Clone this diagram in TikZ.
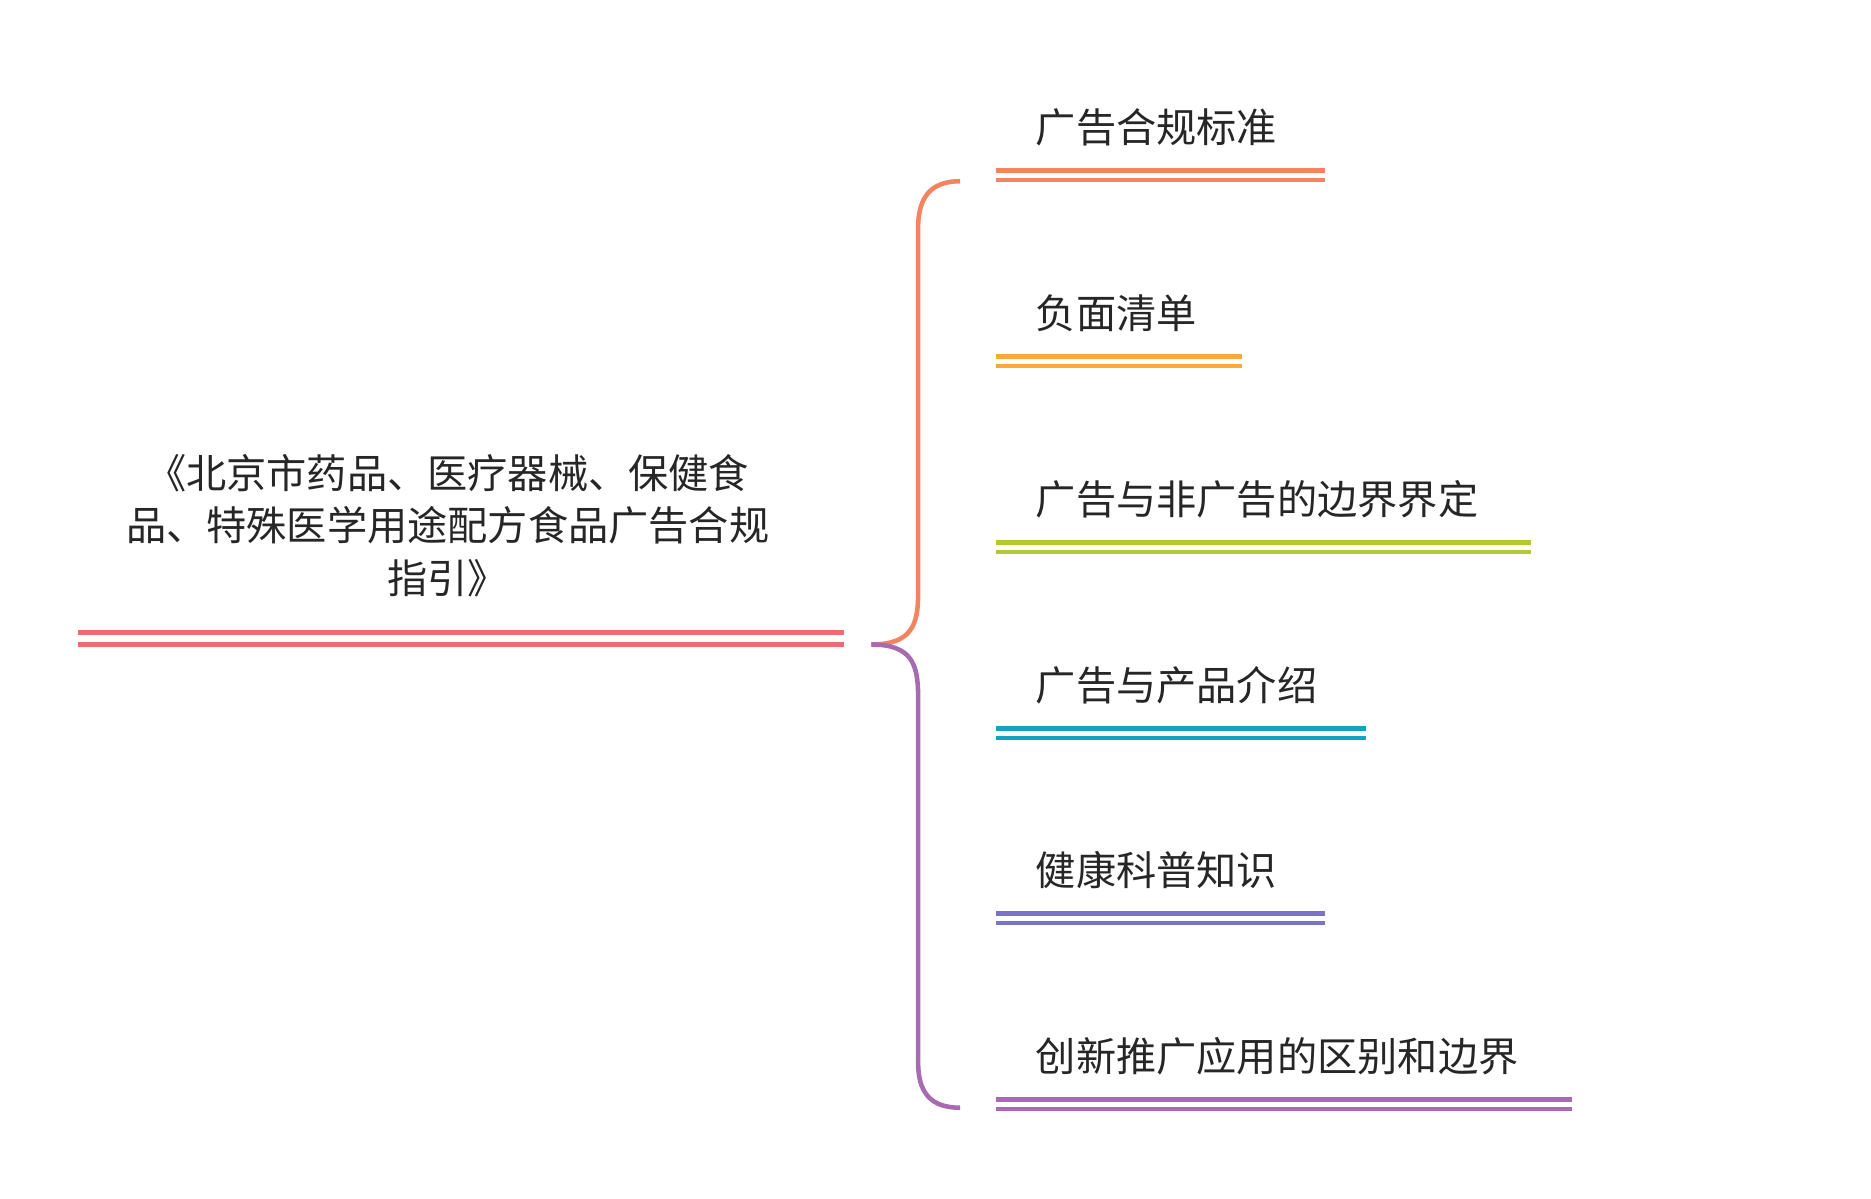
\documentclass[tikz,border=0pt]{standalone}
\usepackage{fontspec}
\setmainfont{Noto Sans CJK SC}
\definecolor{cr}{HTML}{EE6B70}
\definecolor{c1}{HTML}{F4845F}
\definecolor{c2}{HTML}{F9A83A}
\definecolor{c3}{HTML}{B5C92F}
\definecolor{c4}{HTML}{13A3C2}
\definecolor{c5}{HTML}{7A73C8}
\definecolor{c6}{HTML}{A66BB0}
\begin{document}
\begin{tikzpicture}[x=1pt,y=-1pt,
  lbl/.style={anchor=west,inner sep=0pt,font=\fontsize{33.5}{44}\selectfont,text=black!85},
  dl/.style={line width=3.8pt}]
\useasboundingbox (0,0) rectangle (1559,999);
\node[align=center,inner sep=0pt,font=\fontsize{33.5}{44}\selectfont,text=black!85] (root) at (373,438)
 {《北京市药品、医疗器械、保健食\\品、特殊医学用途配方食品广告合规\\指引》};
\draw[dl,cr] (65,527) -- (703,527) (65,537) -- (703,537);
\coordinate (hub) at (726,537);
\foreach \n/\t/\y/\e/\c in {1/广告合规标准/106/1104/c1, 2/负面清单/261/1035/c2, 3/广告与非广告的边界界定/416/1276/c3, 4/广告与产品介绍/571/1138/c4, 5/健康科普知识/725/1104/c5, 6/创新推广应用的区别和边界/880/1310/c6}{
  \node[lbl] (n\n) at (863,\y) {\t};
  \draw[dl,\c] (830,\y+36) -- (\e,\y+36) (830,\y+44) -- (\e,\y+44);
}
\coordinate (top) at (800,151);
\coordinate (bot) at (800,923);
\draw[line width=3.8pt,c1] (hub) .. controls (760,537) and (765,520) .. (765,495) -- (765,190) .. controls (765,165) and (775,151) .. (top);
\draw[line width=3.8pt,c6] (hub) .. controls (760,537) and (765,554) .. (765,580) -- (765,885) .. controls (765,910) and (775,923) .. (bot);
\end{tikzpicture}
\end{document}
